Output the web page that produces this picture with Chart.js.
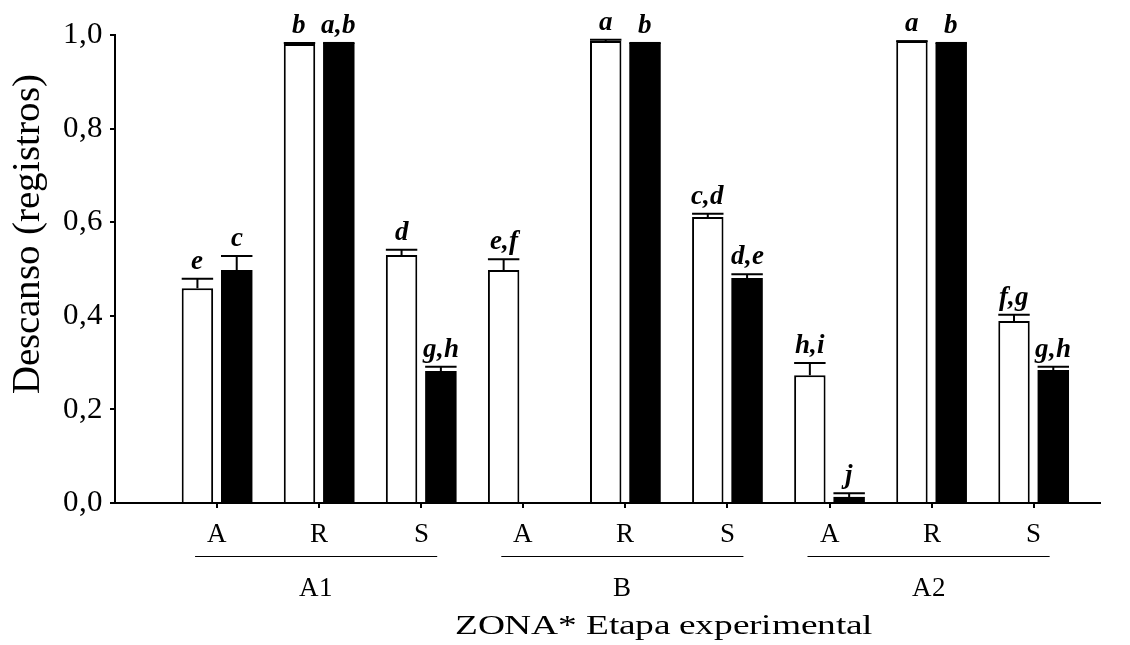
<!DOCTYPE html>
<html>
<head>
<meta charset="utf-8">
<script src="https://cdn.jsdelivr.net/npm/chart.js@4"></script>
<style>
  @font-face { font-family: "SerifFig"; src: local("Liberation Serif"), local("LiberationSerif"); font-weight: normal; font-style: normal; }
  @font-face { font-family: "SerifFig"; src: local("Liberation Serif Bold Italic"), local("LiberationSerif-BoldItalic"); font-weight: bold; font-style: italic; }
  body { margin: 0; background: #fff; }
  #wrap { width: 1130px; height: 645px; }
</style>
</head>
<body>
<div id="wrap"><canvas id="bar-chart"></canvas></div>
<script>
// datos
var zonas = ["A1", "B", "A2"];
var etapas = ["A", "R", "S", "A", "R", "S", "A", "R", "S"];
var yTicks = [0, 0.2, 0.4, 0.6, 0.8, 1.0];

var blancas = [0.459, 0.981, 0.530, 0.498, 0.987, 0.611, 0.273, 0.987, 0.389];
var negras = [0.498, 0.983, 0.282, null, 0.983, 0.481, 0.013, 0.983, 0.284];
var errBlancas = [0.020, 0.002, 0.011, 0.023, 0.003, 0.007, 0.026, 0, 0.013];
var errNegras = [0.030, 0, 0.009, null, 0, 0.008, 0.008, 0, 0.007];
var letrasBlancas = ["e", "b", "d", "e,f", "a", "c,d", "h,i", "a", "f,g"];
var letrasNegras = ["c", "a,b", "g,h", "", "b", "d,e", "j", "b", "g,h"];

var serif = "SerifFig, 'Liberation Serif', 'Times New Roman', serif";

function puntos(vals) {
    var out = [];
    for (var i = 0; i < vals.length; i++) {
        out.push({ x: i + 1, y: vals[i] });
    }
    return out;
}

// texto estirado a lo ancho (the x-axis texts in the figure are wider than normal)
function textoAncho(ctx, txt, cx, cy, ancho) {
    var w = ctx.measureText(txt).width;
    ctx.save();
    ctx.translate(cx, cy);
    ctx.scale(ancho / w, 1);
    ctx.fillText(txt, 0, 0);
    ctx.restore();
}

// error bars + letters above each bar
var errorPlugin = {
    id: "errores",
    afterDatasetsDraw: function(chart) {
        var ctx = chart.ctx;
        var y = chart.scales.y;
        var errs = [errBlancas, errNegras];
        var letras = [letrasBlancas, letrasNegras];
        ctx.save();
        ctx.strokeStyle = "#000";
        ctx.fillStyle = "#000";
        ctx.lineWidth = 2;
        ctx.font = "italic bold 27px " + serif;
        ctx.textAlign = "center";
        ctx.textBaseline = "alphabetic";
        for (var d = 0; d < 2; d++) {
            var meta = chart.getDatasetMeta(d);
            var vals = chart.data.datasets[d].data;
            for (var i = 0; i < meta.data.length; i++) {
                var v = vals[i].y;
                if (v === null) continue;
                var bar = meta.data[i];
                var half = bar.width / 2;
                var yTop = y.getPixelForValue(v);
                var yErr = y.getPixelForValue(v + (errs[d][i] || 0));
                ctx.beginPath();
                ctx.moveTo(bar.x, yTop);
                ctx.lineTo(bar.x, yErr);
                ctx.moveTo(bar.x - half, yErr);
                ctx.lineTo(bar.x + half, yErr);
                ctx.stroke();
                if (letras[d][i]) {
                    ctx.fillText(letras[d][i], bar.x, yErr - 10);
                }
            }
        }
        ctx.restore();
    },
    afterDraw: function(chart) {
        var ctx = chart.ctx;
        var x = chart.scales.x;
        var area = chart.chartArea;
        ctx.save();
        ctx.fillStyle = "#000";
        ctx.strokeStyle = "#000";
        ctx.lineWidth = 1;
        ctx.textAlign = "center";
        ctx.textBaseline = "middle";
        ctx.font = "27px " + serif;
        for (var g = 0; g < zonas.length; g++) {
            var x0 = x.getPixelForValue(g * 3 + 1) - 22;
            var x1 = x.getPixelForValue(g * 3 + 3) + 16;
            ctx.beginPath();
            ctx.moveTo(x0, area.bottom + 53.5);
            ctx.lineTo(x1, area.bottom + 53.5);
            ctx.stroke();
            ctx.fillText(zonas[g], (x0 + x1) / 2, area.bottom + 86);
        }
        ctx.font = "28px " + serif;
        textoAncho(ctx, "ZONA* Etapa experimental", 664, area.bottom + 124, 418);
        // y title
        ctx.font = "39px " + serif;
        ctx.translate(29, 234);
        ctx.rotate(-Math.PI / 2);
        ctx.fillText("Descanso (registros)", 0, 0);
        ctx.restore();
    }
};

var ctx = document.getElementById("bar-chart");

var chartData = {
    datasets: [{
        label: "blanco",
        data: puntos(blancas),
        backgroundColor: "#FFF",
        borderColor: "#000",
        borderWidth: 2,
        categoryPercentage: 0.77,
        barPercentage: 0.8
    }, {
        label: "negro",
        data: puntos(negras),
        backgroundColor: "#000",
        borderColor: "#000",
        borderWidth: 0,
        categoryPercentage: 0.77,
        barPercentage: 0.8
    }]
};

var config = {
    type: "bar",
    data: chartData,
    options: {
        responsive: true,
        maintainAspectRatio: false,
        animation: false,
        layout: { padding: { top: 35, right: 30, left: 0, bottom: 0 } },
        plugins: {
            legend: { display: false },
            tooltip: { enabled: false }
        },
        scales: {
            x: {
                type: "linear",
                offset: false,
                min: 0,
                max: 9.65,
                afterBuildTicks: function(s) {
                    s.ticks = etapas.map(function(e, i) { return { value: i + 1 }; });
                },
                afterFit: function(s) { s.height = 142; },
                grid: { offset: false, drawOnChartArea: false, drawTicks: true, tickLength: 5, color: "#000", lineWidth: 2 },
                border: { color: "#000", width: 2 },
                ticks: {
                    color: "#000",
                    font: { family: serif, size: 27 },
                    padding: 11,
                    maxRotation: 0,
                    autoSkip: false,
                    callback: function(v) { return etapas[v - 1] || ""; }
                }
            },
            y: {
                min: 0,
                max: 1,
                afterBuildTicks: function(s) {
                    s.ticks = yTicks.map(function(v) { return { value: v }; });
                },
                afterFit: function(s) { s.width = 115; },
                grid: { drawOnChartArea: false, drawTicks: true, tickLength: 5, color: "#000", lineWidth: 2 },
                border: { color: "#000", width: 2 },
                ticks: {
                    color: "#000",
                    font: { family: serif, size: 31 },
                    padding: 7,
                    callback: function(v) { return v.toFixed(1).replace(".", ","); }
                }
            }
        }
    },
    plugins: [errorPlugin]
};

var barChart = new Chart(ctx, config);

// redraw once the serif font is really there
Promise.all([
    document.fonts.load("27px SerifFig"),
    document.fonts.load("italic bold 27px SerifFig")
]).then(function() {
    barChart.update();
});
setTimeout(function() { barChart.update(); }, 300);
</script>
</body>
</html>
